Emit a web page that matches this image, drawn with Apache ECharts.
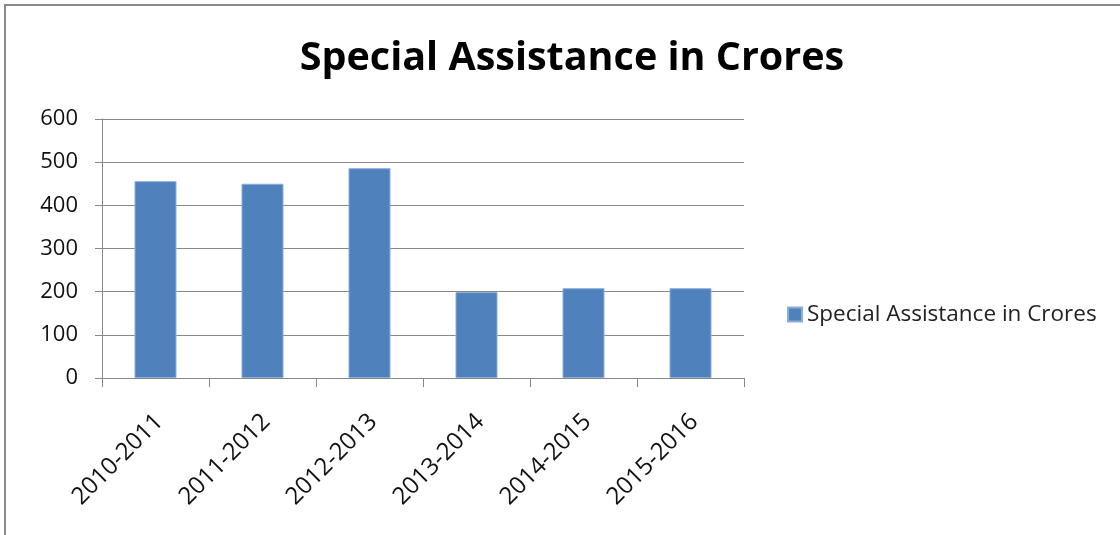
<!DOCTYPE html>
<html><head><meta charset="utf-8">
<script src="https://cdn.jsdelivr.net/npm/echarts@6/dist/echarts.min.js"></script>
<style>html,body{margin:0;padding:0;background:#fff}#c{width:1120px;height:535px}</style>
</head><body><div id="c"></div>
<script>
const categories = ['2010-2011','2011-2012','2012-2013','2013-2014','2014-2015','2015-2016'];
const values = [456, 450, 486, 199, 208, 208];
const yTicks = {min: 0, max: 600, step: 100};
const seriesName = 'Special Assistance in Crores';
const chart = echarts.init(document.getElementById('c'));
chart.setOption({
  animation: false,
  backgroundColor: '#fff',
  graphic: [{type:'rect', shape:{x:5, y:5, width:1130, height:550}, style:{fill:'none', stroke:'#8a8a8a', lineWidth:2}, silent:true}],
  title: {text: 'Special Assistance in Crores', left: 567, textAlign: 'center', top: 34,
    textStyle: {fontFamily: 'Open Sans', fontWeight: 'bold', fontSize: 39.5, color: '#000'}},
  legend: {data: [seriesName], left: 787, top: 303, padding: 0, itemWidth: 14, itemHeight: 14, itemGap: 6,
    icon: 'rect', textStyle: {fontFamily: 'Open Sans', fontSize: 22.5, color: '#222'}},
  grid: {left: 102, right: 376, top: 119, bottom: 157, containLabel: false},
  xAxis: {type: 'category', data: categories,
    axisLine: {lineStyle: {color: '#888'}},
    axisTick: {show: true, length: 9, lineStyle: {color: '#888'}, alignWithLabel: false},
    axisLabel: {rotate: 45, fontFamily: 'Open Sans', fontSize: 24, color: '#111', margin: 36,
      interval: 0, align: 'right', verticalAlign: 'top', lineHeight: 11}},
  yAxis: {type: 'value', min: yTicks.min, max: yTicks.max, interval: yTicks.step,
    axisLine: {show: true, lineStyle: {color: '#888'}},
    axisTick: {show: true, length: 7, lineStyle: {color: '#888'}},
    splitLine: {lineStyle: {color: '#888', width: 1}},
    axisLabel: {fontFamily: 'Open Sans', fontSize: 22, color: '#111', margin: 24}},
  series: [{name: seriesName, type: 'bar', data: values, barWidth: 42,
    itemStyle: {color: '#4F81BD', borderColor: '#8aaedb', borderWidth: 1}}]
});
</script></body></html>
